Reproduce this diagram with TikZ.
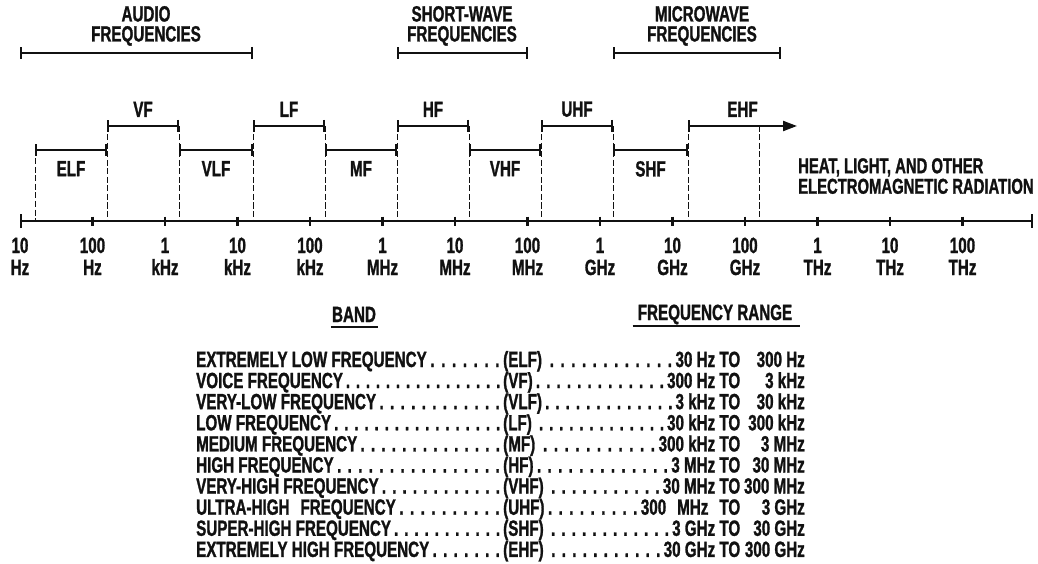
\documentclass[tikz,border=0pt]{standalone}
\usepackage{fontspec}
\setmainfont{Liberation Sans}[FakeStretch=0.69, FakeBold=1.2]
\usetikzlibrary{arrows.meta}
\definecolor{clrink}{HTML}{111111}
\newcommand{\rowdots}{\xleaders\hbox to 10pt{\hss.\hss}\hfill}

\begin{document}
\begin{tikzpicture}[
    x=1pt, y=-1pt,
    every node/.style={font=\fontsize{22}{20}\selectfont\bfseries, text=clrink, inner sep=0pt},
    band/.style={{Bar[width=12pt]}-{Bar[width=12pt]}, draw=clrink, line width=2.2pt},
    bandarrow/.style={{Bar[width=12pt]}-{Triangle[length=14pt, width=10pt]}, draw=clrink, line width=2.2pt},
    scalebar/.style={{Bar[width=14pt]}-{Bar[width=14pt]}, draw=clrink, line width=2.4pt},
    tickmark/.style={draw=clrink, line width=2.6pt},
    guide/.style={draw=clrink, line width=0.8pt, dash pattern=on 6pt off 2.5pt},
    underrule/.style={draw=clrink, line width=2pt},
    grouplabel/.style={align=center, anchor=south},
    tablecell/.style={anchor=base west},
    tablevalue/.style={anchor=base east},
]
\useasboundingbox (0,0) rectangle (1038,564);
\coordinate (t_0) at (20,221);
\coordinate (t_1) at (92.5,221);
\coordinate (t_2) at (165,221);
\coordinate (t_3) at (237.5,221);
\coordinate (t_4) at (310,221);
\coordinate (t_5) at (382.5,221);
\coordinate (t_6) at (455,221);
\coordinate (t_7) at (527.5,221);
\coordinate (t_8) at (600,221);
\coordinate (t_9) at (672.5,221);
\coordinate (t_10) at (745,221);
\coordinate (t_11) at (817.5,221);
\coordinate (t_12) at (890,221);
\coordinate (t_13) at (962.5,221);
\coordinate (t_end) at (1033,221);
\coordinate (lo_0) at (35,150);
\coordinate (lo_1) at (107,150);
\coordinate (lo_2) at (179,150);
\coordinate (lo_3) at (253,150);
\coordinate (lo_4) at (325,150);
\coordinate (lo_5) at (397,150);
\coordinate (lo_6) at (469,150);
\coordinate (lo_7) at (541,150);
\coordinate (lo_8) at (613,150);
\coordinate (lo_9) at (688,150);
\coordinate (up_1) at (107,126);
\coordinate (up_2) at (179,126);
\coordinate (up_3) at (253,126);
\coordinate (up_4) at (325,126);
\coordinate (up_5) at (397,126);
\coordinate (up_6) at (469,126);
\coordinate (up_7) at (541,126);
\coordinate (up_8) at (613,126);
\coordinate (up_9) at (688,126);
\coordinate (up_10) at (759,126);
\coordinate (ehf_tip) at (797,126);
\coordinate (aud_w) at (20,53);
\coordinate (aud_e) at (253,53);
\coordinate (sw_w) at (397,53);
\coordinate (sw_e) at (528,53);
\coordinate (mw_w) at (613,53);
\coordinate (mw_e) at (781,53);
\draw[guide] (lo_0) -- (lo_0 |- t_0);
\draw[guide] (up_1) -- (up_1 |- t_0);
\draw[guide] (up_2) -- (up_2 |- t_0);
\draw[guide] (up_3) -- (up_3 |- t_0);
\draw[guide] (up_4) -- (up_4 |- t_0);
\draw[guide] (up_5) -- (up_5 |- t_0);
\draw[guide] (up_6) -- (up_6 |- t_0);
\draw[guide] (up_7) -- (up_7 |- t_0);
\draw[guide] (up_8) -- (up_8 |- t_0);
\draw[guide] (up_9) -- (up_9 |- t_0);
\draw[guide] (up_10) -- (up_10 |- t_0);
\draw[scalebar] (t_0) -- (t_end);
\draw[tickmark] ([yshift=4.5pt]t_1) -- ([yshift=-4.5pt]t_1);
\draw[tickmark] ([yshift=4.5pt]t_2) -- ([yshift=-4.5pt]t_2);
\draw[tickmark] ([yshift=4.5pt]t_3) -- ([yshift=-4.5pt]t_3);
\draw[tickmark] ([yshift=4.5pt]t_4) -- ([yshift=-4.5pt]t_4);
\draw[tickmark] ([yshift=4.5pt]t_5) -- ([yshift=-4.5pt]t_5);
\draw[tickmark] ([yshift=4.5pt]t_6) -- ([yshift=-4.5pt]t_6);
\draw[tickmark] ([yshift=4.5pt]t_7) -- ([yshift=-4.5pt]t_7);
\draw[tickmark] ([yshift=4.5pt]t_8) -- ([yshift=-4.5pt]t_8);
\draw[tickmark] ([yshift=4.5pt]t_9) -- ([yshift=-4.5pt]t_9);
\draw[tickmark] ([yshift=4.5pt]t_10) -- ([yshift=-4.5pt]t_10);
\draw[tickmark] ([yshift=4.5pt]t_11) -- ([yshift=-4.5pt]t_11);
\draw[tickmark] ([yshift=4.5pt]t_12) -- ([yshift=-4.5pt]t_12);
\draw[tickmark] ([yshift=4.5pt]t_13) -- ([yshift=-4.5pt]t_13);
\node[anchor=base] (num_0) at (20,253) {10};
\node[anchor=base] (num_1) at (92.5,253) {100};
\node[anchor=base] (num_2) at (165,253) {1};
\node[anchor=base] (num_3) at (237.5,253) {10};
\node[anchor=base] (num_4) at (310,253) {100};
\node[anchor=base] (num_5) at (382.5,253) {1};
\node[anchor=base] (num_6) at (455,253) {10};
\node[anchor=base] (num_7) at (527.5,253) {100};
\node[anchor=base] (num_8) at (600,253) {1};
\node[anchor=base] (num_9) at (672.5,253) {10};
\node[anchor=base] (num_10) at (745,253) {100};
\node[anchor=base] (num_11) at (817.5,253) {1};
\node[anchor=base] (num_12) at (890,253) {10};
\node[anchor=base] (num_13) at (962.5,253) {100};
\node[anchor=base] (unit_0) at (20,275) {Hz};
\node[anchor=base] (unit_1) at (92.5,275) {Hz};
\node[anchor=base] (unit_2) at (165,275) {kHz};
\node[anchor=base] (unit_3) at (237.5,275) {kHz};
\node[anchor=base] (unit_4) at (310,275) {kHz};
\node[anchor=base] (unit_5) at (382.5,275) {MHz};
\node[anchor=base] (unit_6) at (455,275) {MHz};
\node[anchor=base] (unit_7) at (527.5,275) {MHz};
\node[anchor=base] (unit_8) at (600,275) {GHz};
\node[anchor=base] (unit_9) at (672.5,275) {GHz};
\node[anchor=base] (unit_10) at (745,275) {GHz};
\node[anchor=base] (unit_11) at (817.5,275) {THz};
\node[anchor=base] (unit_12) at (890,275) {THz};
\node[anchor=base] (unit_13) at (962.5,275) {THz};
\draw[band] (lo_0) -- node[below=10pt] (n_elf) {ELF} (lo_1);
\draw[band] (lo_2) -- node[below=10pt] (n_vlf) {VLF} (lo_3);
\draw[band] (lo_4) -- node[below=10pt] (n_mf) {MF} (lo_5);
\draw[band] (lo_6) -- node[below=10pt] (n_vhf) {VHF} (lo_7);
\draw[band] (lo_8) -- node[below=10pt] (n_shf) {SHF} (lo_9);
\draw[band] (up_1) -- node[above=8pt] (n_vf) {VF} (up_2);
\draw[band] (up_3) -- node[above=8pt] (n_lf) {LF} (up_4);
\draw[band] (up_5) -- node[above=8pt] (n_hf) {HF} (up_6);
\draw[band] (up_7) -- node[above=8pt] (n_uhf) {UHF} (up_8);
\draw[bandarrow] (up_9) -- node[above=8pt] (n_ehf) {EHF} (ehf_tip);
\draw[band] (aud_w) -- (aud_e);
\draw[band] (sw_w) -- (sw_e);
\draw[band] (mw_w) -- (mw_e);
\node[grouplabel] (g_audio) at (146,46) {AUDIO\\FREQUENCIES};
\node[grouplabel] (g_short) at (462,46) {SHORT-WAVE\\FREQUENCIES};
\node[grouplabel] (g_micro) at (702,46) {MICROWAVE\\FREQUENCIES};
\node[anchor=north west, align=left, font=\fontsize{21.5}{20.5}\selectfont\bfseries] (heat) at (798,158) {HEAT, LIGHT, AND OTHER\\ELECTROMAGNETIC RADIATION};
\node[anchor=base] (hd_band) at (354,322) {BAND};
\node[anchor=base] (hd_range) at (715,320) {FREQUENCY RANGE};
\draw[underrule] ([xshift=-1pt, yshift=-5pt]hd_band.base west) -- ([xshift=2pt, yshift=-5pt]hd_band.base east);
\draw[underrule] ([xshift=-5pt, yshift=-6pt]hd_range.base west) -- ([xshift=8pt, yshift=-6pt]hd_range.base east);
\node[tablecell] (r_1) at (196,367) {\makebox[307pt][l]{EXTREMELY LOW FREQUENCY\rowdots}};
\node[tablecell] (a_1) at (503,367) {\makebox[237pt][l]{(ELF) \rowdots 30 Hz TO}};
\node[tablevalue] (v_1) at (805,367) {300 Hz};
\node[tablecell] (r_2) at (196,388.1) {\makebox[307pt][l]{VOICE FREQUENCY\rowdots}};
\node[tablecell] (a_2) at (503,388.1) {\makebox[237pt][l]{(VF)\rowdots 300 Hz TO}};
\node[tablevalue] (v_2) at (805,388.1) {3 kHz};
\node[tablecell] (r_3) at (196,409.2) {\makebox[307pt][l]{VERY-LOW FREQUENCY\rowdots}};
\node[tablecell] (a_3) at (503,409.2) {\makebox[237pt][l]{(VLF)\rowdots 3 kHz TO}};
\node[tablevalue] (v_3) at (805,409.2) {30 kHz};
\node[tablecell] (r_4) at (196,430.3) {\makebox[307pt][l]{LOW FREQUENCY\rowdots}};
\node[tablecell] (a_4) at (503,430.3) {\makebox[237pt][l]{(LF) \rowdots 30 kHz TO}};
\node[tablevalue] (v_4) at (805,430.3) {300 kHz};
\node[tablecell] (r_5) at (196,451.4) {\makebox[307pt][l]{MEDIUM FREQUENCY\rowdots}};
\node[tablecell] (a_5) at (503,451.4) {\makebox[237pt][l]{(MF) \rowdots 300 kHz TO}};
\node[tablevalue] (v_5) at (805,451.4) {3 MHz};
\node[tablecell] (r_6) at (196,472.5) {\makebox[307pt][l]{HIGH FREQUENCY\rowdots}};
\node[tablecell] (a_6) at (503,472.5) {\makebox[237pt][l]{(HF)\rowdots 3 MHz TO}};
\node[tablevalue] (v_6) at (805,472.5) {30 MHz};
\node[tablecell] (r_7) at (196,493.6) {\makebox[307pt][l]{VERY-HIGH FREQUENCY\rowdots}};
\node[tablecell] (a_7) at (503,493.6) {\makebox[237pt][l]{(VHF) \rowdots 30 MHz TO}};
\node[tablevalue] (v_7) at (805,493.6) {300 MHz};
\node[tablecell] (r_8) at (196,514.7) {\makebox[307pt][l]{ULTRA-HIGH\enspace FREQUENCY\rowdots}};
\node[tablecell] (a_8) at (503,514.7) {\makebox[237pt][l]{(UHF)\rowdots 300\enspace MHz\enspace TO}};
\node[tablevalue] (v_8) at (805,514.7) {3 GHz};
\node[tablecell] (r_9) at (196,535.8) {\makebox[307pt][l]{SUPER-HIGH FREQUENCY\rowdots}};
\node[tablecell] (a_9) at (503,535.8) {\makebox[237pt][l]{(SHF) \rowdots 3 GHz TO}};
\node[tablevalue] (v_9) at (805,535.8) {30 GHz};
\node[tablecell] (r_10) at (196,556.9) {\makebox[307pt][l]{EXTREMELY HIGH FREQUENCY\rowdots}};
\node[tablecell] (a_10) at (503,556.9) {\makebox[237pt][l]{(EHF) \rowdots 30 GHz TO}};
\node[tablevalue] (v_10) at (805,556.9) {300 GHz};
\end{tikzpicture}
\end{document}
